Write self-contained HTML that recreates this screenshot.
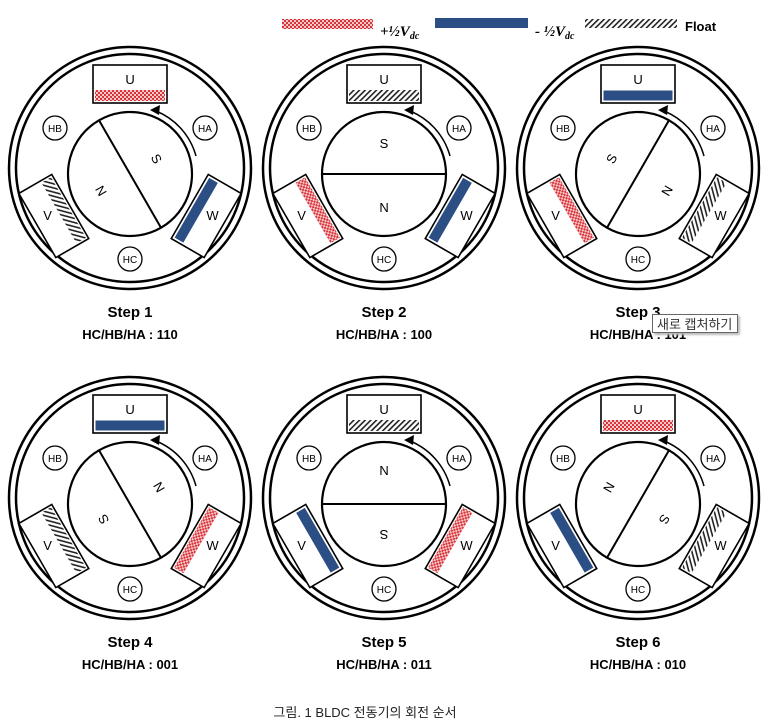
<!DOCTYPE html>
<html><head><meta charset="utf-8">
<style>
body{margin:0;background:#fff;width:774px;height:725px;overflow:hidden;font-family:"Liberation Sans","Noto Sans CJK KR",sans-serif;}
svg{display:block}
.tt{position:absolute;left:652px;top:314px;width:86px;height:19px;border:1px solid #666;background:#fff;font-size:13px;color:#333;line-height:19px;padding-left:4px;box-shadow:2px 2px 2px #bbb;box-sizing:border-box;font-family:"Liberation Sans","Noto Sans CJK KR",sans-serif;}
</style></head><body>
<svg id="fig" width="774" height="725" xmlns="http://www.w3.org/2000/svg">
<defs>
<pattern id="pRed" width="4" height="4" patternUnits="userSpaceOnUse">
<rect width="4" height="4" fill="#f6c8c8"/><rect width="2" height="2" fill="#d8343c"/><rect x="2" y="2" width="2" height="2" fill="#d8343c"/>
</pattern>
<pattern id="pFloat" width="4" height="4" patternUnits="userSpaceOnUse" patternTransform="rotate(45)">
<rect width="4" height="4" fill="#fff"/><rect width="1.6" height="4" fill="#222"/>
</pattern>
</defs>
<g id="legend">
<rect x="282" y="19" width="91" height="10" fill="url(#pRed)"/>
<text x="380" y="36" font-family="Liberation Serif,serif" font-style="italic" font-weight="bold" font-size="15">+½V<tspan font-size="10" dy="3">dc</tspan></text>
<rect x="435" y="18" width="93" height="10" fill="#2b4f85"/>
<text x="535" y="36" font-family="Liberation Serif,serif" font-style="italic" font-weight="bold" font-size="15">- ½V<tspan font-size="10" dy="3">dc</tspan></text>
<rect x="585" y="19" width="92" height="9" fill="url(#pFloat)"/>
<text x="685" y="31" font-weight="bold" font-size="13">Float</text>
</g>
<text x="365" y="717" text-anchor="middle" font-size="13" fill="#222">그림. 1 BLDC 전동기의 회전 순서</text>
</svg>
<div class="tt">새로 캡처하기</div>
<script>
const stepNames=["Step 1","Step 2","Step 3","Step 4","Step 5","Step 6"];
const hallCodes=["110","100","101","001","011","010"];
const rotorAngles=[60,0,-60,240,180,120];
const uStates=["red","float","blue","blue","float","red"];
const vStates=["float","red","red","float","blue","blue"];
const wStates=["blue","blue","float","red","red","float"];

const NS="http://www.w3.org/2000/svg";
const svg=document.getElementById("fig");
const colX=[130,384,638], rowY=[168,498];
function mk(tag,attrs,parent){const e=document.createElementNS(NS,tag);for(const k in attrs)e.setAttribute(k,attrs[k]);parent.appendChild(e);return e;}
function fillFor(s){return s==="red"?"url(#pRed)":s==="blue"?"#2b4f85":"url(#pFloat)";}
for(let i=0;i<6;i++){
  const cx=colX[i%3], cy=rowY[Math.floor(i/3)];
  const g=mk("g",{transform:`translate(${cx},${cy})`},svg);
  
  
  mk("circle",{r:121,fill:"none",stroke:"#000","stroke-width":2.5},g);
  mk("circle",{r:114,fill:"none",stroke:"#000","stroke-width":2.5},g);
  const sc=mk("g",{transform:"translate(0,4)"},g);
  const states=[uStates[i],wStates[i],vStates[i]], names=["U","W","V"];
  for(let k=0;k<3;k++){
    const a=k*120;
    const sg=mk("g",{transform:`rotate(${a})`},sc);
    
    
    mk("rect",{x:-37,y:-107,width:74,height:38,fill:"#fff",stroke:"#000","stroke-width":1.6},sg);
    const b=mk("rect",{x:-35,y:-82,width:70,height:11,fill:fillFor(states[k]),stroke:states[k]==="blue"?"#fff":"none","stroke-width":1},sg);
    
    
    const rad=(a-90)*Math.PI/180, d=[93,86,86][k];
    const lx=d*Math.cos(rad), ly=d*Math.sin(rad);
    const t=mk("text",{x:lx+(k===1?8:k===2?-8:0),y:ly+5,"text-anchor":"middle","font-size":13},sc);
    t.textContent=names[k];
    
    
  }
  const hall=[["HA",75,-40],["HB",-75,-40],["HC",0,91]];
  for(const [h,hx,hy] of hall){
    const hc=mk("circle",{cx:hx,cy:hy,r:12,fill:"#fff",stroke:"#000","stroke-width":1.3},g);
    
    
    const ht=mk("text",{x:hx,y:hy+4,"text-anchor":"middle","font-size":10},g);
    ht.textContent=h;
    
    
  }
  const rg=mk("g",{transform:`translate(0,6) rotate(${rotorAngles[i]})`},g);
  
  
  mk("circle",{r:62,fill:"#fff",stroke:"#000","stroke-width":2.2},rg);
  mk("line",{x1:-62,y1:0,x2:62,y2:0,stroke:"#000","stroke-width":2},rg);
  const s=mk("text",{x:0,y:-26,"text-anchor":"middle","font-size":13},rg);s.textContent="S";
  
  
  const n=mk("text",{x:0,y:38,"text-anchor":"middle","font-size":13},rg);n.textContent="N";
  
  
  const ar=mk("path",{d:"M66,-12 A68,68 0 0 0 26,-57",fill:"none",stroke:"#000","stroke-width":1.5},g);
  
  
  mk("path",{d:"M20,-58 L30,-63 L29,-53 Z",fill:"#000"},g);
  const st=mk("text",{x:cx,y:cy+149,"text-anchor":"middle","font-size":15,"font-weight":"bold"},svg);
  st.textContent=stepNames[i];
  
  
  const hcT=mk("text",{x:cx,y:cy+171,"text-anchor":"middle","font-size":13,"font-weight":"bold"},svg);
  hcT.textContent="HC/HB/HA : "+hallCodes[i];
  
  
}
</script>
</body></html>
